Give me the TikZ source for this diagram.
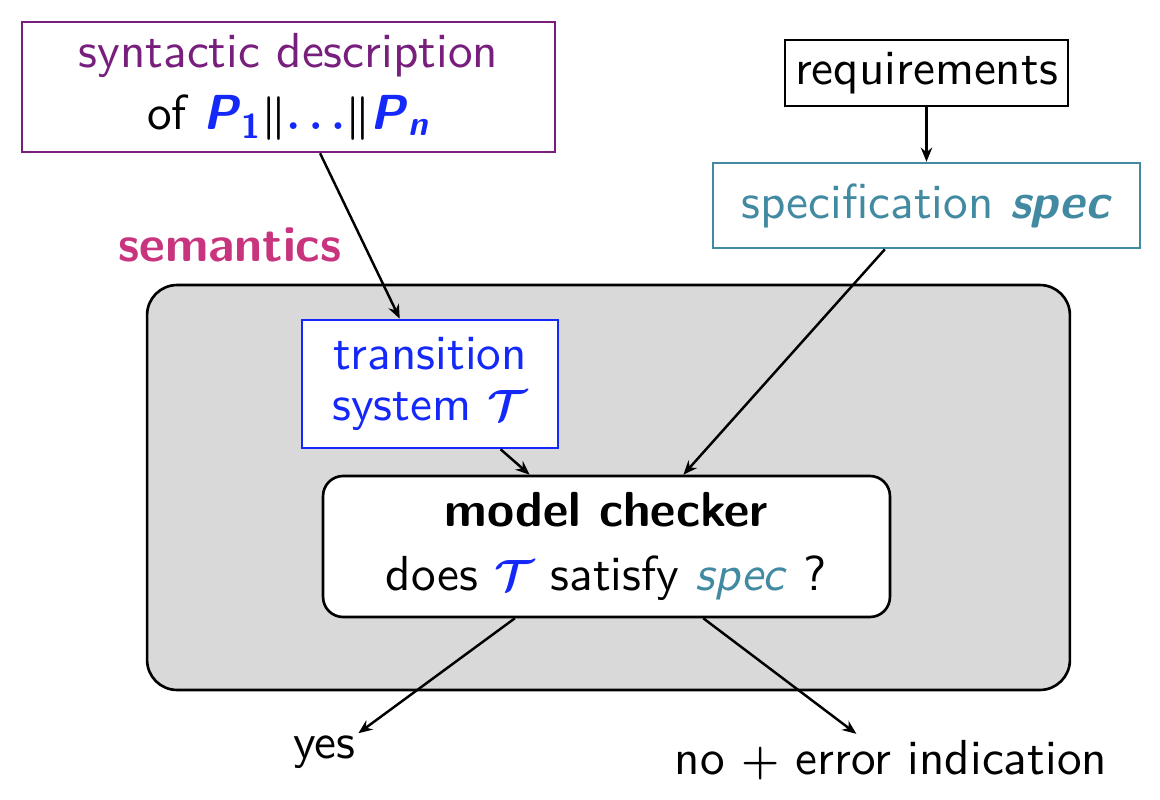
\documentclass[tikz,border=0pt]{standalone}
\usepackage{amsmath}
\usepackage{fontspec}
\setsansfont{lmsans10-regular.otf}[BoldFont=lmsans10-bold.otf,ItalicFont=lmsans10-oblique.otf,BoldItalicFont=lmsans10-boldoblique.otf]
\usetikzlibrary{arrows.meta,calc}
\definecolor{synpurple}{RGB}{120,30,125}
\definecolor{specteal}{RGB}{65,138,162}
\definecolor{semmagenta}{RGB}{200,52,125}
\definecolor{tsblue}{RGB}{20,40,250}
\definecolor{bggrey}{RGB}{217,217,217}
\newcommand{\calT}{{\boldmath$\mathcal{T}$}}
\begin{document}
\begin{tikzpicture}[x=0.02cm,y=-0.02cm,
  lbl/.style={font=\sffamily\fontsize{28}{35}\selectfont, align=center, inner sep=0pt},
  box/.style={lbl, draw, line width=1.5pt},
  arr/.style={line width=1.4pt, -{Stealth[length=8pt,width=6.5pt]}}]
\useasboundingbox (0,0) rectangle (1160,800);
% grey area
\node[draw, line width=1.5pt, fill=bggrey, rounded corners=0.6cm,
      minimum width=18.46cm, minimum height=8.1cm] (area) at (608.5,487.5) {};
% boxes
\node[box, draw=synpurple, fill=white, minimum width=10.66cm, minimum height=2.6cm] (syn) at (288.5,87)
  {\textcolor{synpurple}{syntactic description}\\of \textcolor{tsblue}{\textbf{\textit{P}}$_{\textbf{1}}$}{\boldmath$\|$}\textcolor{tsblue}{\boldmath$\ldots$}{\boldmath$\|$}\textcolor{tsblue}{\textbf{\textit{P}}$_{\textbf{\textit{n}}}$}};
\node[box, fill=white, minimum width=5.66cm, minimum height=1.32cm] (req) at (926.5,73) {requirements};
\node[box, draw=specteal, text=specteal, fill=white, minimum width=8.54cm, minimum height=1.7cm] (spec) at (926.5,205.5)
  {specification \textbf{\textit{spec}}};
\node[lbl, font=\sffamily\bfseries\fontsize{28.5}{35}\selectfont, text=semmagenta] (sem) at (230,245) {semantics};
\node[box, draw=tsblue, text=tsblue, fill=white, minimum width=5.12cm, minimum height=2.56cm,
      font=\sffamily\fontsize{28}{29}\selectfont] (ts) at (430,384)
  {transition\\system \calT};
\node[box, fill=white, rounded corners=0.4cm, minimum width=11.34cm, minimum height=2.82cm,
      font=\sffamily\fontsize{28}{36}\selectfont] (mc) at (606.5,546.5)
  {\textbf{model checker}\\does \textcolor{tsblue}{\calT} satisfy \textcolor{specteal}{\textit{spec}} ?};
\node[lbl] (yes) at (324,752) {yes};
\node[lbl] (no) at (891,760) {no {\fontsize{34}{34}\selectfont\boldmath$+$} error indication};
% connectors
\draw[arr] ($(syn.south west)!0.559!(syn.south east)$) -- ($(ts.north west)!0.383!(ts.north east)$);
\draw[arr] (req.south) -- (spec.north);
\draw[arr] ($(spec.south west)!0.403!(spec.south east)$) -- ($(mc.north west)!0.635!(mc.north east)$);
\draw[arr] ($(ts.south west)!0.773!(ts.south east)$) -- ($(mc.north west)!0.365!(mc.north east)$);
\draw[arr] ($(mc.south west)!0.339!(mc.south east)$) -- ($(yes.north east)+(3,-2)$);
\draw[arr] ($(mc.south west)!0.670!(mc.south east)$) -- ($(no.north west)!0.42!(no.north east)+(0,-6)$);
\end{tikzpicture}
\end{document}
